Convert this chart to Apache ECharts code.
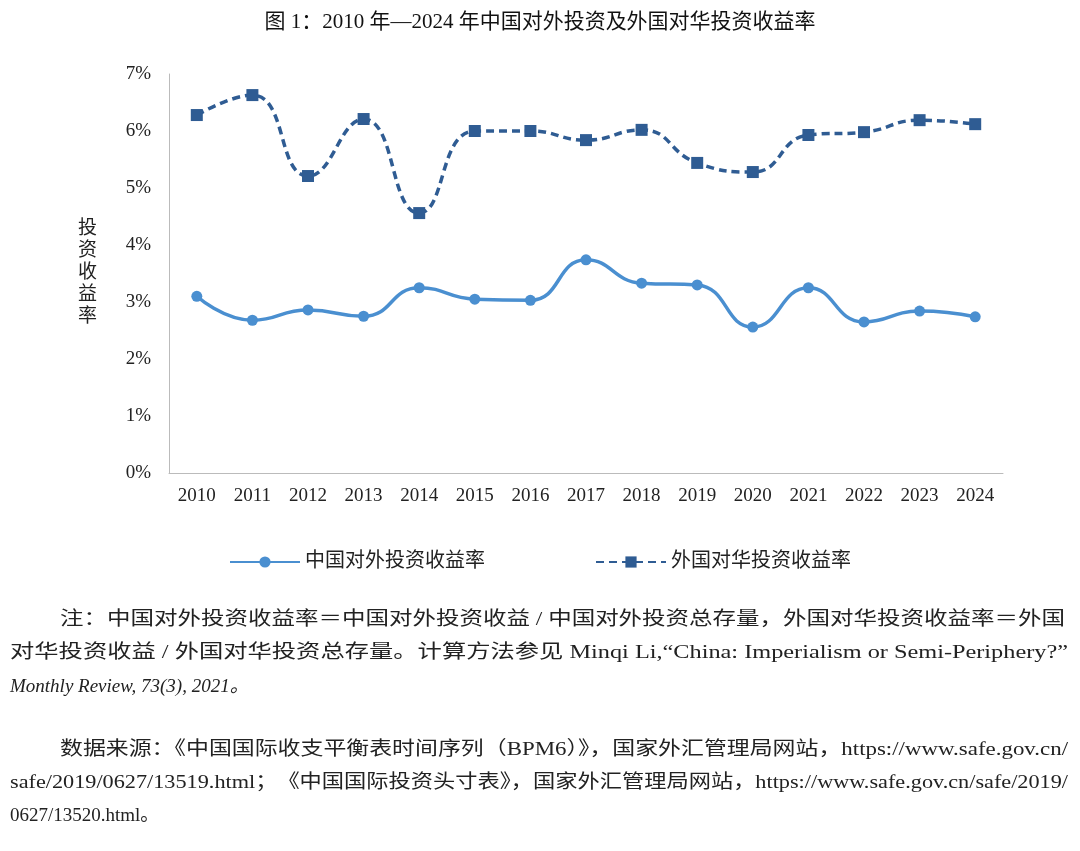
<!DOCTYPE html>
<html><head><meta charset="utf-8">
<script src="https://cdn.jsdelivr.net/npm/echarts@6/dist/echarts.min.js"></script>
<style>html,body{margin:0;padding:0;background:#fff}#c{width:1080px;height:851px}</style>
</head><body><div id="c"></div>
<script>
const years = ['2010','2011','2012','2013','2014','2015','2016','2017','2018','2019','2020','2021','2022','2023','2024'];
const outward = [3.10,2.68,2.86,2.75,3.25,3.05,3.03,3.74,3.33,3.30,2.56,3.25,2.65,2.84,2.74];
const inward = [6.28,6.63,5.21,6.21,4.56,6.00,6.00,5.84,6.02,5.44,5.28,5.93,5.98,6.19,6.12];
const yTicks = ['0%','1%','2%','3%','4%','5%','6%','7%'];
const FONT = '"Liberation Serif","Noto Sans CJK SC",serif';
const notes = [
 {x:60,y:622,w:1005,t:'注：中国对外投资收益率＝中国对外投资收益 / 中国对外投资总存量，外国对华投资收益率＝外国'},
 {x:10,y:655,w:1058,t:'对华投资收益 / 外国对华投资总存量。计算方法参见 Minqi Li,“China: Imperialism or Semi-Periphery?”'},
 {x:10,y:688,t:'Monthly Review, 73(3), 2021。',italic:true},
 {x:60,y:752,w:1008,t:'数据来源：《中国国际收支平衡表时间序列（BPM6）》，国家外汇管理局网站，https://www.safe.gov.cn/'},
 {x:10,y:785,w:1058,t:'safe/2019/0627/13519.html；《中国国际投资头寸表》，国家外汇管理局网站，https://www.safe.gov.cn/safe/2019/'},
 {x:10,y:818,t:'0627/13520.html。'}
];
const ctx = document.createElement('canvas').getContext('2d');
ctx.font = '19px ' + FONT;
const chart = echarts.init(document.getElementById('c'));
chart.setOption({
  animation:false,
  textStyle:{fontFamily:FONT},
  title:{text:'图 1：2010 年—2024 年中国对外投资及外国对华投资收益率',left:'center',top:7,
    textStyle:{fontFamily:FONT,fontSize:21,fontWeight:'normal',color:'#111'}},
  grid:{left:169,right:77,top:74,bottom:378},
  legend:{bottom:274,left:'center',itemGap:110,itemWidth:70,itemHeight:14,
    textStyle:{fontFamily:FONT,fontSize:20,color:'#222'},
    data:[{name:'中国对外投资收益率'},{name:'外国对华投资收益率'}]},
  xAxis:{type:'category',data:years,boundaryGap:true,
    axisLine:{lineStyle:{color:'#bbb'}},axisTick:{show:false},
    axisLabel:{fontFamily:FONT,fontSize:19,color:'#222',margin:14}},
  yAxis:{type:'value',min:0,max:7,interval:1,name:'投\n资\n收\n益\n率',
    nameLocation:'middle',nameGap:72,nameRotate:0,
    nameTextStyle:{fontFamily:FONT,fontSize:19,color:'#222',lineHeight:22},
    axisLine:{show:true,lineStyle:{color:'#bbb'}},axisTick:{show:false},splitLine:{show:false},
    axisLabel:{fontFamily:FONT,fontSize:19,color:'#222',margin:18,formatter:v=>yTicks[v]}},
  series:[
    {name:'中国对外投资收益率',type:'line',smooth:0.5,data:outward,symbol:'circle',symbolSize:11,
      lineStyle:{width:3.5,color:'#4a8fd0'},itemStyle:{color:'#4a8fd0'}},
    {name:'外国对华投资收益率',type:'line',smooth:0.5,data:inward,symbol:'rect',symbolSize:12,
      lineStyle:{width:3.5,color:'#2f5c93',type:[8,5]},itemStyle:{color:'#2f5c93'}}
  ],
  graphic:notes.map(n=>{
    const sx = n.w ? n.w/ctx.measureText(n.t).width : 1;
    return {type:'text',x:n.x,y:n.y-11,scaleX:sx,style:{text:n.t,fontFamily:FONT,fontSize:19,
      fontStyle:n.italic?'italic':'normal',fill:'#222'}};
  })
});
</script></body></html>
